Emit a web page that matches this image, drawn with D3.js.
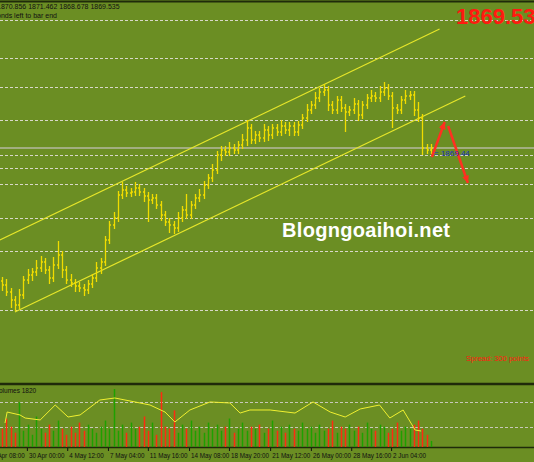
<!DOCTYPE html>
<html><head><meta charset="utf-8">
<script src="https://cdn.jsdelivr.net/npm/d3@7"></script>
<style>body{margin:0;background:#6b8e23;overflow:hidden}</style>
</head><body><div id="chart"></div>
<script>
// closing price of each bar (open = previous close)
const closes = [1835.25,1833.5,1831.5,1830.25,1832.75,1836.5,1837.75,1838.5,1839.5,1841,
  1839,1837,1840.25,1842.75,1839,1836.5,1835.75,1835,1834.5,1834,
  1835.5,1837,1839.5,1841,1846.5,1850.25,1852,1857.75,1859,1858.25,
  1858.5,1859.5,1858.5,1857.5,1856.5,1857,1855.25,1852.75,1851,1850.25,
  1849.5,1852,1854,1852.75,1855.25,1857,1857.75,1860.25,1862,1864,
  1867.75,1869,1868.5,1869.5,1869,1870.25,1871.5,1874.5,1871.5,1872.75,
  1872,1874,1872.75,1874.5,1873.5,1875,1874,1875,1873.5,1875.25,
  1877,1879,1880.25,1882,1883.5,1884,1880.25,1879,1881.5,1879.5,
  1878.5,1879,1880.5,1877.75,1880.25,1882,1882.5,1882,1883.5,1884.5,
  1882.5,1879.5,1879,1881.5,1882.5,1882.75,1879,1877,1869.5,1869,1869.5];
const upWick = [1,1.5,1,1,1.5,1,1.5,1,2,1.5, 1,1,2,3.5,1,1,1.5,1,1,1,
  1,1,1.5,1,1,1,1.5,1,2,1, 1,1.5,1,1,1,1,1,1,1,1,
  1,1.5,1,4,1,1,1.5,1,1,1.5, 1,1,1,1.5,1,1,1.5,2,1,1,
  1,1.5,1,1,1,1.5,1,1,1,1, 1,1.5,1,1.5,1,1.5,1,1,1,1,
  1,1,1.5,1,1,1,1.5,1,1.5,1.5, 1,1,1,1,1.5,1,1,2,1,1,1];
const downWick = [1.5,1,2,1.5,1,1,1,1.5,1,1, 1,1.5,1,1,2,1,1,1.5,1,1.5,
  1,1,1,1.5,1,1,1,1,1,1, 1,1,1,1.5,5.5,1,1,1.5,1,2,
  1.5,1,1,1,1,1,1,1,1,1, 1,1.5,1,1,1,1,1,1.5,1,1,
  1,1,1.5,1,1,1,1,1.5,1,1, 1,1,1,1,1,1,1.5,1,1,1,
  5,1,1,1.5,1,1,1,1,1,1, 1,5,1,1,1,1,1.5,1,1.75,1,1];
const volumes = [900,1400,1000,700,2200,800,1100,600,1500,900, 700,1100,800,1300,900,600,1000,700,1200,800,
  1100,900,700,1000,1300,900,2850,800,1100,700, 1200,900,1000,1500,800,1200,600,2700,1000,900,
  1800,700,1100,900,1300,800,1000,700,1200,900, 1100,800,1000,1400,700,900,1200,800,1000,900,
  1100,700,900,1300,800,1000,700,1100,900,800, 1200,900,1000,700,1100,800,900,1300,700,1000,
  900,1100,800,1000,700,1200,900,800,1100,1000, 700,900,1200,800,1000,900,1100,1300,900,600,300];
const volIdx = [0.7,1.2,4.2,5.4,8.9,12.4,15.4,18.2,22.8,26.3,31,34.5,38,40.3,43.8,
  48.5,53.1,55.5,57.8,62.5,68.3,72.5,76.5,80,83.5,88,90.4,93.5,96.3,97.7];
const volAvg = [1180,1720,1575,1425,1330,2065,1475,1575,2310,2410,2215,2065,1720,1230,1820,
  2215,2165,1670,1820,1820,1670,2215,1720,1475,1870,2065,1425,1820,835,785];
const gridPrices = [1901.5,1892,1884.75,1876.5,1867.75,1864.5,1860.5,1852,1843.75,1829];
const channelUpper = [[-0.5,1846.5],[102,1899.25]];
const channelLower = [[3,1828.5],[108,1882.5]];
const arrowUp = [[100.2,1867.25],[103.2,1876]];
const arrowDown = [[104,1875],[108.6,1860.75]];
const dateLabels = ["27 Apr 08:00","30 Apr 00:00","4 May 12:00","7 May 04:00","11 May 16:00","14 May 08:00",
  "18 May 20:00","21 May 12:00","26 May 00:00","28 May 16:00","2 Jun 04:00"];
const dateIdx = [-3.5,5.8,15.2,24.7,34,43.6,52.9,62.5,72,81.4,90.7];
const lastPrice = 1869.5;

const W = 534, H = 462;
const svg = d3.select("#chart").append("svg").attr("width", W).attr("height", H)
  .style("font-family", "'Liberation Sans', Arial, sans-serif");
svg.append("rect").attr("width", W).attr("height", H).attr("fill", "#6b8e23");

const x = d3.scaleLinear().domain([0, 100]).range([2, 431]);
const y = d3.scaleLinear().domain([1906.5, 1831.5]).range([0, 300]);
const yv = d3.scaleLinear().domain([0, 3000]).range([447, 386]);

// frame lines
svg.append("line").attr("x1", 0).attr("x2", W).attr("y1", 1.5).attr("y2", 1.5).attr("stroke", "#1f2a0a").attr("stroke-width", 2);
svg.append("line").attr("x1", 0).attr("x2", W).attr("y1", 384).attr("y2", 384).attr("stroke", "#1f2a0a").attr("stroke-width", 2.5);
svg.append("line").attr("x1", 0).attr("x2", W).attr("y1", 447.5).attr("y2", 447.5).attr("stroke", "#1f2a0a").attr("stroke-width", 1.5);

// grid
svg.selectAll(".grid").data(gridPrices).join("line")
  .attr("x1", 0).attr("x2", W).attr("y1", d => Math.round(y(d)) + 0.5).attr("y2", d => Math.round(y(d)) + 0.5)
  .attr("stroke", "#d8d8c8").attr("stroke-dasharray", "3,2");
[1000, 2200].forEach(v => svg.append("line").attr("x1", 0).attr("x2", W)
  .attr("y1", Math.round(yv(v)) + 0.5).attr("y2", Math.round(yv(v)) + 0.5)
  .attr("stroke", "#c8c8b8").attr("stroke-dasharray", "3,2"));

// current price line
svg.append("line").attr("x1", 0).attr("x2", W).attr("y1", y(lastPrice)).attr("y2", y(lastPrice))
  .attr("stroke", "#b4b8a0").attr("stroke-width", 1.5);

// channel
const line = d3.line().x(d => x(d[0])).y(d => y(d[1]));
[channelUpper, channelLower].forEach(c => svg.append("path").attr("d", line(c))
  .attr("stroke", "#e6e62a").attr("stroke-width", 1.2).attr("fill", "none"));

// bars
const bars = closes.map((c, i) => {
  const o = i ? closes[i - 1] : c + 1;
  return {i, o, c, h: Math.max(o, c) + upWick[i], l: Math.min(o, c) - downWick[i]};
});
const g = svg.append("g").attr("stroke", "#f0dc00").attr("stroke-width", 1.3);
bars.forEach(b => {
  const cx = Math.round(x(b.i)) + 0.5;
  g.append("line").attr("x1", cx).attr("x2", cx).attr("y1", y(b.h)).attr("y2", y(b.l));
  g.append("line").attr("x1", cx - 1.5).attr("x2", cx).attr("y1", y(b.o)).attr("y2", y(b.o));
  g.append("line").attr("x1", cx).attr("x2", cx + 1.5).attr("y1", y(b.c)).attr("y2", y(b.c));
});

// arrows
[arrowUp, arrowDown].forEach(a => {
  svg.append("path").attr("d", line(a)).attr("stroke", "#ff3020").attr("stroke-width", 2.5).attr("fill", "none");
  const [x0, y0] = [x(a[0][0]), y(a[0][1])], [x1, y1] = [x(a[1][0]), y(a[1][1])];
  const ang = Math.atan2(y1 - y0, x1 - x0);
  const p = [[x1, y1], [x1 - 8 * Math.cos(ang - 0.45), y1 - 8 * Math.sin(ang - 0.45)],
    [x1 - 8 * Math.cos(ang + 0.45), y1 - 8 * Math.sin(ang + 0.45)]];
  svg.append("polygon").attr("points", p.join(" ")).attr("fill", "#ff3020");
});

// volumes
svg.selectAll(".vol").data(bars).join("line")
  .attr("x1", d => Math.round(x(d.i)) + 0.5).attr("x2", d => Math.round(x(d.i)) + 0.5)
  .attr("y1", 447).attr("y2", d => yv(volumes[d.i]))
  .attr("stroke", d => d.c >= d.o ? "#1ea000" : "#ff2a10").attr("stroke-width", 1.5);
svg.append("path").datum(volIdx.map((v, i) => [v, volAvg[i]]))
  .attr("d", d3.line().x(d => x(d[0])).y(d => yv(d[1])))
  .attr("stroke", "#f0f030").attr("stroke-width", 1).attr("fill", "none");

// date axis
const xa = svg.append("g").attr("transform", "translate(0,448)")
  .call(d3.axisBottom(x).tickValues(dateIdx).tickSize(3).tickFormat((d, i) => dateLabels[i]));
xa.select(".domain").remove();
xa.selectAll("line").attr("stroke", "#111");
xa.selectAll("text").attr("text-anchor", "start").attr("dx", 1.5).attr("dy", 0).attr("y", 9.5)
  .attr("fill", "#111").style("font-size", "6.3px").style("font-family", "'Liberation Sans Narrow', 'Liberation Sans', sans-serif");

// texts
svg.append("text").attr("x", -3).attr("y", 9).text("1870.856 1871.462 1868.678 1869.535").style("font-size", "7px").attr("fill", "#111");
svg.append("text").attr("x", -3).attr("y", 18).text("onds left to bar end").style("font-size", "7px").attr("fill", "#111");
svg.append("text").attr("x", -1).attr("y", 393).text("olumes 1820").style("font-size", "6.5px").attr("fill", "#111");
svg.append("text").attr("x", 456).attr("y", 24).text("1869.53").style("font-size", "22px").style("font-weight", "bold").attr("fill", "#ff1a10");
svg.append("text").attr("x", 466).attr("y", 361).text("Spread: 300 points").style("font-size", "7.5px").attr("fill", "#ff1a10");
svg.append("text").attr("x", 434).attr("y", 156).text("= 1869.44").style("font-size", "8px").attr("fill", "#1a30c0");
svg.append("text").attr("x", 366).attr("y", 237).attr("text-anchor", "middle").text("Blogngoaihoi.net")
  .attr("textLength", 168).style("font-size", "20px").style("font-weight", "bold").attr("fill", "#ffffff");
</script></body></html>
